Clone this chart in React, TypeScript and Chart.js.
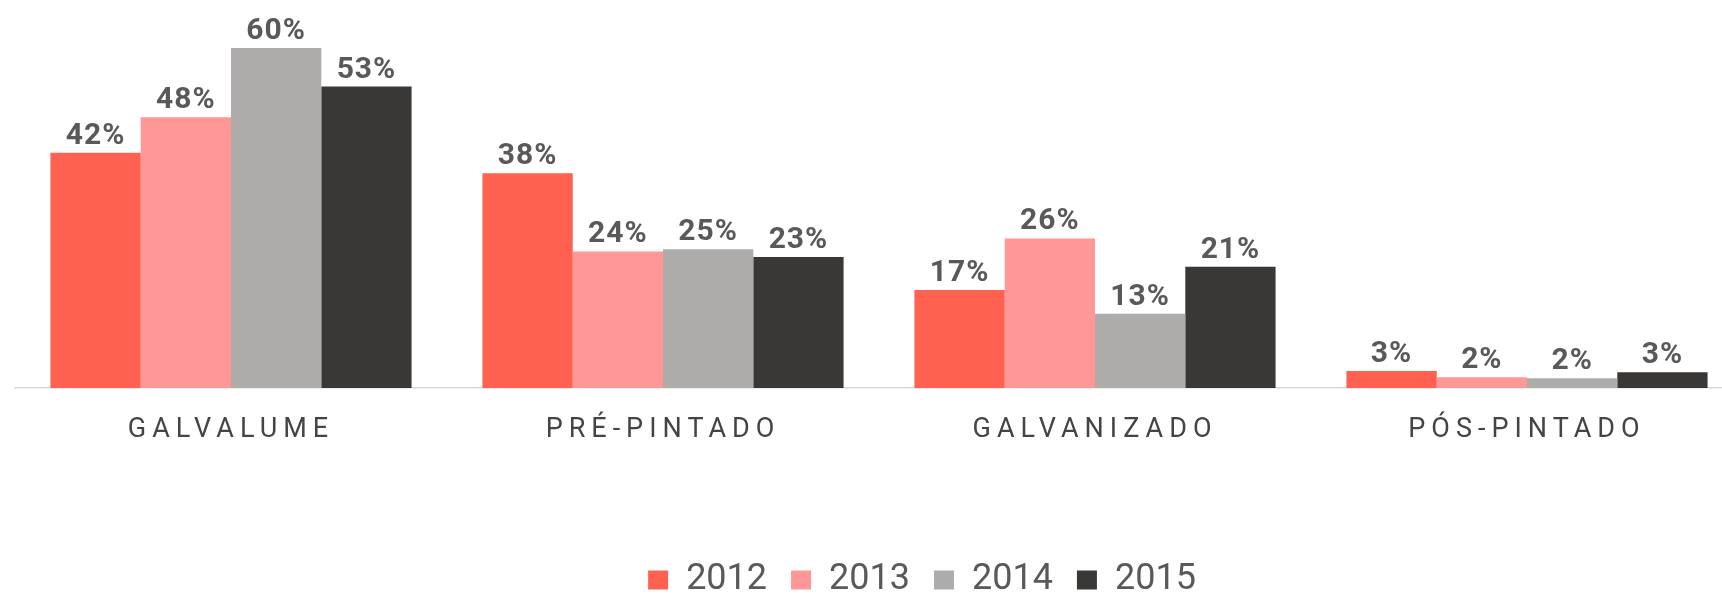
import React, { useEffect, useRef } from "react";
import { Chart, registerables } from "chart.js";

Chart.register(...registerables);

const categories = ["GALVALUME", "PRÉ-PINTADO", "GALVANIZADO", "PÓS-PINTADO"];
const seriesNames = ["2012", "2013", "2014", "2015"];
const values2012 = [41.5, 37.9, 17.3, 3.0];
const values2013 = [47.8, 24.1, 26.4, 1.9];
const values2014 = [60.0, 24.5, 13.1, 1.7];
const values2015 = [53.2, 23.1, 21.4, 2.8];
const seriesColors = ["#FF6150", "#FF9797", "#AEABAB", "#3A3836"];

const valueLabels = {
  id: "valueLabels",
  afterDatasetsDraw(chart: any) {
    const ctx = chart.ctx;
    ctx.save();
    ctx.font = "bold 30px Roboto";
    ctx.fillStyle = "#595959";
    ctx.textAlign = "center";
    ctx.textBaseline = "alphabetic";
    (ctx as any).letterSpacing = "1px";
    chart.data.datasets.forEach((ds: any, i: number) => {
      const meta = chart.getDatasetMeta(i);
      meta.data.forEach((el: any, j: number) => {
        const v = ds.data[j] as number;
        ctx.fillText(Math.round(v) + "%", el.x, el.y - 9);
      });
    });
    ctx.restore();
    (ctx as any).letterSpacing = "6px";
  },
  afterDraw(chart: any) {
    (chart.ctx as any).letterSpacing = "0px";
  },
};

export default function App() {
  const ref = useRef<HTMLCanvasElement | null>(null);
  useEffect(() => {
    if (!ref.current) return;
    Chart.defaults.font.family = "Roboto";
    const all = [values2012, values2013, values2014, values2015];
    const chart = new Chart(ref.current, {
      type: "bar",
      data: {
        labels: categories,
        datasets: seriesNames.map((name, i) => ({
          label: name,
          data: all[i],
          backgroundColor: seriesColors[i],
          borderWidth: 0,
          categoryPercentage: 0.836,
          barPercentage: 1.0,
        })),
      },
      options: {
        responsive: false,
        animation: false,
        layout: { padding: { left: 15, right: 0, top: 19.67, bottom: 0 } },
        plugins: {
          tooltip: { enabled: false },
          legend: {
            position: "bottom",
            labels: {
              boxWidth: 20,
              boxHeight: 19,
              padding: 24,
              color: "#595959",
              font: { size: 36, family: "Roboto" },
            },
          },
        },
        scales: {
          x: {
            grid: { display: false, drawTicks: false },
            border: { display: true, color: "#d9d9d9", width: 1.5 },
            ticks: {
              z: 1,
              color: "#444444",
              font: { size: 27, family: "Roboto" },
              padding: 26,
              maxRotation: 0,
              autoSkip: false,
            },
            afterFit: (s: any) => {
              s.height = 150;
            },
          },
          y: {
            position: "right",
            min: 0,
            max: 65,
            grid: { display: false },
            border: { display: false },
            ticks: { display: false },
            afterFit: (s: any) => {
              s.width = 86;
            },
          },
        },
      },
      plugins: [valueLabels],
    });
    return () => chart.destroy();
  }, []);
  return (
    <div
      style={{
        position: "absolute",
        left: 0,
        top: 0,
        width: 1722,
        height: 596,
        overflow: "hidden",
        background: "#ffffff",
      }}
    >
      <canvas ref={ref} width={1829} height={608} style={{ display: "block" }} />
    </div>
  );
}
